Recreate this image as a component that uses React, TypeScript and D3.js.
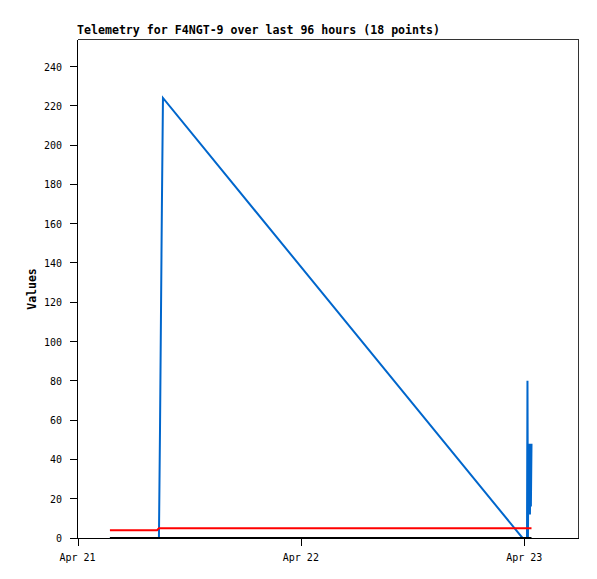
import * as React from 'react'
import * as d3 from 'd3'

// telemetry packets, times in UTC
const times = [
  '2024-04-21T03:29:00Z', '2024-04-21T08:33:00Z', '2024-04-21T08:45:00Z', '2024-04-21T08:52:00Z',
  '2024-04-21T08:58:00Z', '2024-04-21T09:04:00Z', '2024-04-21T09:11:00Z', '2024-04-22T23:49:00Z',
  '2024-04-23T00:18:00Z', '2024-04-23T00:21:00Z', '2024-04-23T00:24:00Z', '2024-04-23T00:28:00Z',
  '2024-04-23T00:31:00Z', '2024-04-23T00:34:00Z', '2024-04-23T00:37:00Z', '2024-04-23T00:40:00Z',
  '2024-04-23T00:43:00Z', '2024-04-23T00:47:00Z',
]
const blueValues = [0, 0, 0, 56, 112, 168, 224, 0, 0, 80, 0, 48, 12, 48, 12, 48, 16, 48]
const redValues = [4, 4, 5, 5, 5, 5, 5, 5, 5, 5, 5, 5, 5, 5, 5, 5, 5, 5]
const blackValues = [0, 0, 0, 0, 0, 0, 0, 0, 0, 0, 0, 0, 0, 0, 0, 0, 0, 0]
const yTicks = [0, 20, 40, 60, 80, 100, 120, 140, 160, 180, 200, 220, 240]
const xStart = '2024-04-21T00:00:00Z'
const xEnd = '2024-04-23T05:50:00Z'
const yMax = 254

const W = 597
const H = 579
const left = 77.5
const right = 578.5
const top = 39.5
const bottom = 538.5
const mono = '"DejaVu Sans Mono", "Liberation Mono", monospace'

export default function App() {
  const x = d3.scaleUtc().domain([new Date(xStart), new Date(xEnd)]).range([left, right])
  const y = d3.scaleLinear().domain([0, yMax]).range([bottom, top])
  const fmt = d3.utcFormat('%b %d')
  const days = d3.utcDay.range(new Date(xStart), new Date(xEnd))

  const series = [
    {name: 'blue', values: blueValues, color: '#0066cc'},
    {name: 'red', values: redValues, color: '#ff0000'},
    {name: 'black', values: blackValues, color: '#000000'},
  ]
  const line = (vals: number[]) =>
    d3.line<number>()
      .x((_, i) => x(new Date(times[i])))
      .y(d => y(d) - 0.5)(vals) || ''

  return (
    <svg width={W} height={H} style={{position: 'absolute', left: 0, top: 0, background: '#fff'}}>
      <text x={77} y={34} fontFamily={mono} fontSize={11.5} fontWeight="bold" fill="#000"
        textLength={363} lengthAdjust="spacingAndGlyphs">
        Telemetry for F4NGT-9 over last 96 hours (18 points)
      </text>

      {/* frame */}
      <g shapeRendering="crispEdges" fill="none">
        <line x1={left} x2={right} y1={top} y2={top} stroke="#333" />
        <line x1={right} x2={right} y1={top} y2={bottom} stroke="#333" />
        <line x1={left} x2={right} y1={bottom} y2={bottom} stroke="#000" />
        <line x1={left} x2={left} y1={top} y2={bottom} stroke="#000" />
      </g>

      {/* y axis */}
      {yTicks.map(t => (
        <g key={t}>
          <line x1={left - 8} x2={left} y1={Math.round(y(t)) - 0.5} y2={Math.round(y(t)) - 0.5} stroke="#000" shapeRendering="crispEdges" />
          <text x={62} y={y(t) + 3.5} textAnchor="end" fontFamily={mono} fontSize={10} fill="#000">{t}</text>
        </g>
      ))}
      <text transform={`translate(36,${(top + bottom) / 2}) rotate(-90)`} textAnchor="middle"
        fontFamily={mono} fontSize={11.5} fontWeight="bold" fill="#000">Values</text>

      {/* x axis */}
      {days.map(d => (
        <g key={d.toISOString()}>
          <line x1={Math.round(x(d)) + 0.5} x2={Math.round(x(d)) + 0.5} y1={bottom} y2={bottom + 7} stroke="#000" shapeRendering="crispEdges" />
          <text x={x(d)} y={561} textAnchor="middle" fontFamily={mono} fontSize={10} fill="#000">
            {fmt(d).replace(/ 0/, ' ')}
          </text>
        </g>
      ))}

      {/* data */}
      {series.map(s => (
        <path key={s.name} d={line(s.values)} fill="none" stroke={s.color} strokeWidth={2} />
      ))}
    </svg>
  )
}
